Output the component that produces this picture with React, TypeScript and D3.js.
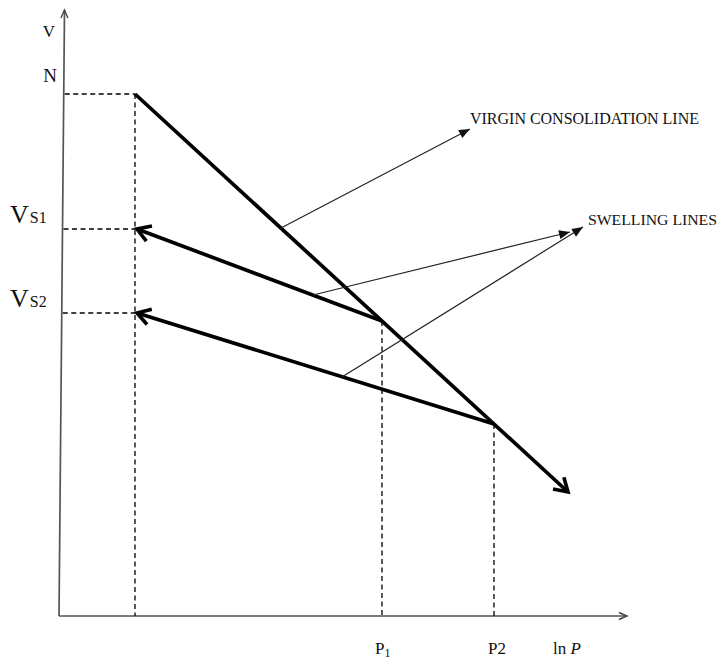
import React, { useEffect } from "react";
import * as d3 from "d3";

// ---- data (schematic units: lnP along x, v along y) ----
const xDomain = [0, 568];
const yDomain = [0, 606];

// Virgin consolidation line: start at N, passes P1 and P2, ends in arrow
const vclX = [76, 509];
const vclY = [522, 124];

// swelling lines: start on the VCL at P1 / P2, run back to the v axis level
const swellStartX = [323, 435];
const swellStartY = [295, 192];
const swellEndX = [78, 78];
const swellEndY = [387, 303];

// levels on v axis
const vLevelLabels = ["N", "VS1", "VS2"];
const vLevelValues = [522, 387, 303];
const nX = 76;

// lnP marks
const pLabels = ["P1", "P2"];
const pValues = [323, 435];

// annotation arrows [x1, y1, x2, y2]
const annoVcl = [222, 388, 411, 487];
const annoSwell1 = [254, 321, 511, 384];
const annoSwell2 = [283, 239, 524, 389];

const W = 718;
const H = 659;

export default function App() {
  useEffect(() => {
    document.body.style.margin = "0";
  }, []);

  const x = d3.scaleLinear().domain(xDomain).range([59, 627]);
  const y = d3.scaleLinear().domain(yDomain).range([616, 10]);
  const line = d3.line<[number, number]>().x((d) => x(d[0])).y((d) => y(d[1]));

  const font = "'Liberation Serif', 'Times New Roman', serif";
  const ink = "#111";

  const dashed = { stroke: "#000", strokeWidth: 1.3, strokeDasharray: "5,3.5", fill: "none" };

  return (
    <svg width={W} height={H} style={{ display: "block", background: "#fff" }}>
      <defs>
        <marker id="open" viewBox="-16 -10 20 20" refX="0" refY="0" markerWidth="20" markerHeight="20"
          markerUnits="userSpaceOnUse" orient="auto">
          <path d="M-13,-8 L0,0 L-13,8" fill="none" stroke="#000" strokeWidth="3.6" strokeLinejoin="miter" />
        </marker>
        <marker id="solid" viewBox="-12 -6 14 12" refX="0" refY="0" markerWidth="14" markerHeight="12"
          markerUnits="userSpaceOnUse" orient="auto">
          <path d="M-11,-4.5 L0,0 L-11,4.5 Z" fill="#111" />
        </marker>
        <marker id="axisArrow" viewBox="-10 -6 12 12" refX="0" refY="0" markerWidth="12" markerHeight="12"
          markerUnits="userSpaceOnUse" orient="auto">
          <path d="M-8,-3.5 L0,0 L-8,3.5" fill="none" stroke="#444" strokeWidth="1.4" />
        </marker>
      </defs>

      {/* axes */}
      <line x1={x(0)} y1={y(0)} x2={x(0) + 5.5} y2={y(yDomain[1])} stroke="#555" strokeWidth={1.7}
        markerEnd="url(#axisArrow)" />
      <line x1={x(0)} y1={y(0)} x2={x(xDomain[1])} y2={y(0)} stroke="#555" strokeWidth={1.7}
        markerEnd="url(#axisArrow)" />

      {/* dashed guide lines */}
      {vLevelValues.map((v, i) => {
        const frac = (y(0) - y(v)) / (y(0) - y(yDomain[1]));
        return (
          <line key={"h" + i} x1={x(0) + 5.5 * frac + 1} y1={y(v)} x2={x(nX)} y2={y(v)} {...dashed} />
        );
      })}
      <line x1={x(nX)} y1={y(vLevelValues[0])} x2={x(nX)} y2={y(0)} {...dashed} />
      {pValues.map((p, i) => (
        <line key={"v" + i} x1={x(p)} y1={y(swellStartY[i])} x2={x(p)} y2={y(0)} {...dashed} />
      ))}

      {/* virgin consolidation line */}
      <path d={line([[vclX[0], vclY[0]], [vclX[1], vclY[1]]]) || ""} stroke="#000" strokeWidth={3.7}
        fill="none" markerEnd="url(#open)" />

      {/* swelling lines */}
      {swellStartX.map((sx, i) => (
        <path key={"s" + i}
          d={line([[sx, swellStartY[i]], [swellEndX[i], swellEndY[i]]]) || ""}
          stroke="#000" strokeWidth={3.7} fill="none" markerEnd="url(#open)" />
      ))}

      {/* annotation arrows */}
      {[annoVcl, annoSwell1, annoSwell2].map((a, i) => (
        <line key={"a" + i} x1={x(a[0])} y1={y(a[1])} x2={x(a[2])} y2={y(a[3])}
          stroke="#222" strokeWidth={1.2} markerEnd="url(#solid)" />
      ))}

      {/* annotation text */}
      <text x={470} y={124} fontFamily={font} fontSize={16} fill={ink} textLength={229}
        lengthAdjust="spacingAndGlyphs">VIRGIN CONSOLIDATION LINE</text>
      <text x={588} y={225} fontFamily={font} fontSize={15} fill={ink} textLength={129}
        lengthAdjust="spacingAndGlyphs">SWELLING LINES</text>

      {/* v axis labels */}
      <text x={49} y={37} fontFamily={font} fontSize={17} fill={ink} textAnchor="middle">V</text>
      <text x={50} y={82} fontFamily={font} fontSize={19} fill={ink} textAnchor="middle">{vLevelLabels[0]}</text>
      {vLevelLabels.slice(1).map((lab, i) => (
        <text key={"vl" + i} x={10} y={y(vLevelValues[i + 1]) - 6} fontFamily={font} fill={ink}>
          <tspan fontSize={26}>{lab[0]}</tspan>
          <tspan fontSize={16} dx={1}>{lab.slice(1)}</tspan>
        </text>
      ))}

      {/* lnP axis labels */}
      <text x={x(pValues[0]) - 7} y={654} fontFamily={font} fill={ink}>
        <tspan fontSize={17}>P</tspan>
        <tspan fontSize={12} dy={3}>{pLabels[0].slice(1)}</tspan>
      </text>
      <text x={x(pValues[1]) - 6} y={654} fontFamily={font} fontSize={17} fill={ink}>{pLabels[1]}</text>
      <text x={553} y={654} fontFamily={font} fontSize={17} fill={ink}>
        ln <tspan fontStyle="italic">P</tspan>
      </text>
    </svg>
  );
}
